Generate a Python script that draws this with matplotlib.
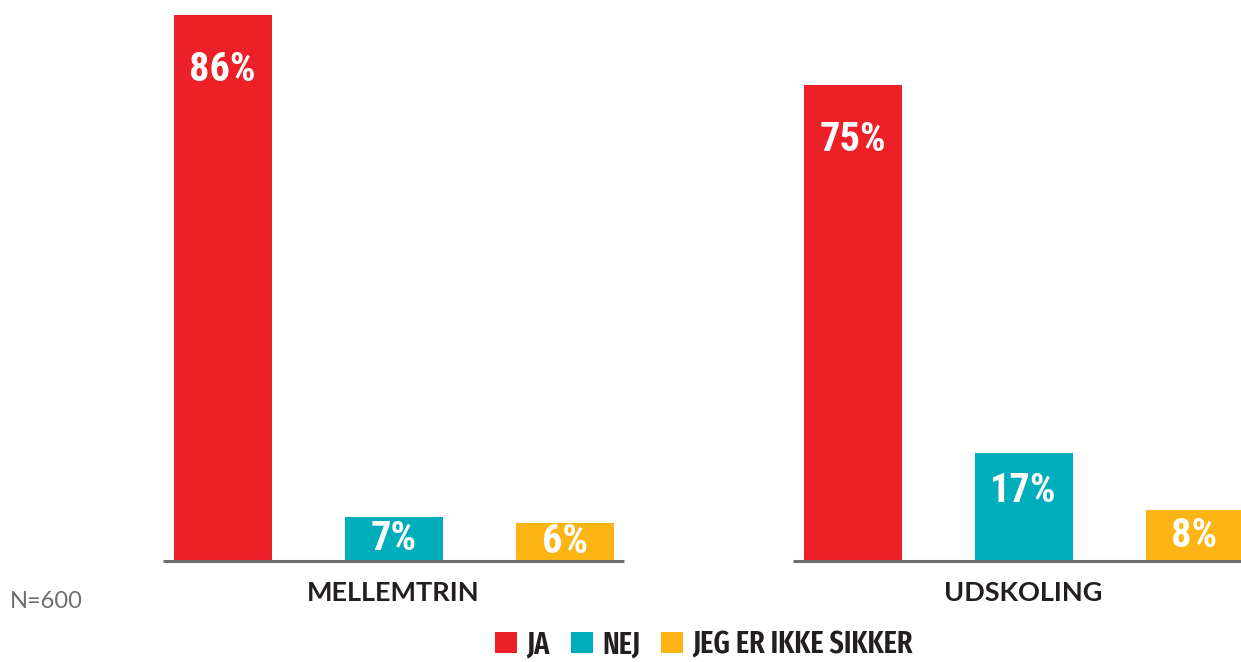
import matplotlib
matplotlib.use("Agg")
import matplotlib.pyplot as plt
from matplotlib.patches import Patch

groups = ["MELLEMTRIN", "UDSKOLING"]
series = ["JA", "NEJ", "JEG ER IKKE SIKKER"]
values = {
    "JA": [86, 75],
    "NEJ": [7, 17],
    "JEG ER IKKE SIKKER": [6, 8],
}
colors = ["#ED1F27", "#00AEBB", "#FDB515"]
note = "N=600"

W, H = 1241, 662
fig = plt.figure(figsize=(W / 100, H / 100), dpi=100)
base_px = 101
ax = fig.add_axes([0, base_px / H, 1, 1 - base_px / H])

group_gap = 630 / 171
bar_w = 98 / 171
val_font = "Roboto Condensed"
leg_font = "Fira Sans Extra Condensed"

for j, s in enumerate(series):
    xs = [g * group_gap + (j - 1) for g in range(len(groups))]
    vals = values[s]
    ax.bar(xs, vals, width=bar_w, color=colors[j], zorder=2)
    for x, v in zip(xs, vals):
        if v >= 60:
            y = v - 8.7
        elif v >= 12:
            y = v - 5.9
        else:
            y = v / 2
        ax.text(x, y, f"{v}%", ha="center", va="center", color="white",
                fontsize=29, family=val_font, fontweight="bold", zorder=3)

for g, name in enumerate(groups):
    c = g * group_gap
    ax.plot([c - 1.35, c + 1.35], [0, 0], color="#6D6E71", lw=2.2,
            solid_capstyle="butt", zorder=3, clip_on=False)
    ax.text(c, -5.1, name, ha="center", va="center", color="#231F20",
            fontsize=19.5, family="Lato", fontweight="bold")

ax.set_xlim(-393.5 / 171, (W - 393.5) / 171)
ax.set_ylim(0, (H - base_px) / 6.35)
ax.axis("off")

fig.text(10 / W, 1 - 601 / H, note, ha="left", va="center", color="#6D6E71",
         fontsize=17, family="Lato")

handles = [Patch(facecolor=c, edgecolor="none") for c in colors]
leg = fig.legend(handles, series, loc="center", bbox_to_anchor=(704 / W, 1 - 645 / H),
                 ncol=3, frameon=False, handlelength=0.72, handleheight=0.72,
                 handletextpad=0.3, columnspacing=0.7, borderpad=0, borderaxespad=0,
                 prop={"family": leg_font, "size": 22, "weight": 600})
for t in leg.get_texts():
    t.set_color("#231F20")

fig.savefig("out.png", dpi=100)
